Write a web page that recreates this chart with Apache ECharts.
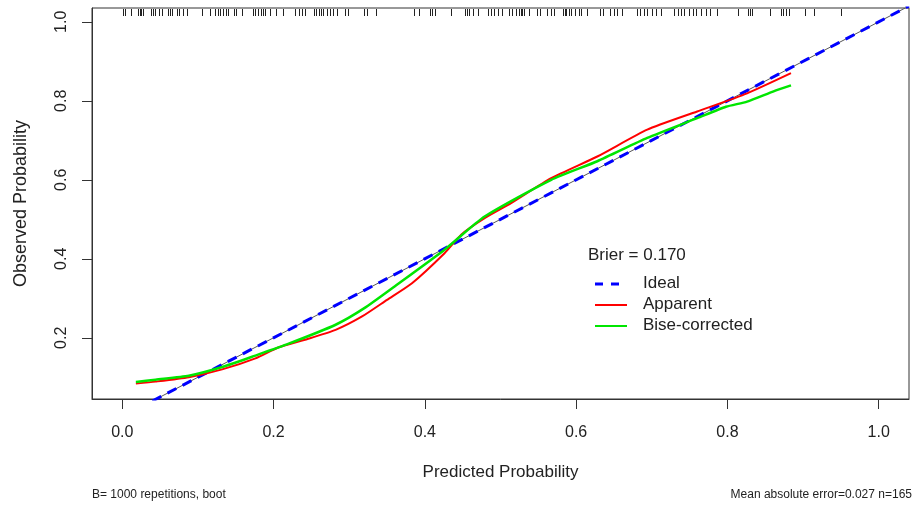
<!DOCTYPE html>
<html>
<head>
<meta charset="utf-8">
<script src="https://cdn.jsdelivr.net/npm/echarts@6/dist/echarts.min.js"></script>
<style>
  html, body { margin: 0; padding: 0; background: #fff; }
  #chart { width: 918px; height: 508px; }
</style>
</head>
<body>
<div id="chart"></div>
<script>
// axis ticks
const xTicks = [0, 0.2, 0.4, 0.6, 0.8, 1.0];
const yTicks = [0.2, 0.4, 0.6, 0.8, 1.0];

// calibration curves (predicted -> observed)
const apparentX = [0.018, 0.044, 0.088, 0.132, 0.176, 0.207, 0.245, 0.282, 0.317, 0.35, 0.383, 0.426, 0.448, 0.479, 0.514, 0.567, 0.628, 0.694, 0.760, 0.826, 0.884];
const apparentY = [0.084, 0.089, 0.100, 0.120, 0.148, 0.176, 0.197, 0.220, 0.254, 0.296, 0.338, 0.414, 0.461, 0.503, 0.541, 0.604, 0.659, 0.727, 0.773, 0.819, 0.870];

const correctedX = [0.018, 0.044, 0.088, 0.132, 0.176, 0.220, 0.282, 0.320, 0.360, 0.426, 0.479, 0.567, 0.628, 0.694, 0.760, 0.798, 0.826, 0.861, 0.884];
const correctedY = [0.088, 0.094, 0.104, 0.126, 0.155, 0.185, 0.233, 0.275, 0.330, 0.423, 0.507, 0.600, 0.647, 0.706, 0.756, 0.785, 0.798, 0.824, 0.839];

const idealX = [0, 1.04];

// rug of predicted probabilities (top of plot)
const rugValues = [
  0.001, 0.004, 0.011, 0.021, 0.023, 0.025, 0.027, 0.038, 0.041, 0.043, 0.048, 0.053, 0.060, 0.063, 0.066,
  0.072, 0.075, 0.080, 0.085, 0.105, 0.116, 0.123, 0.126, 0.129, 0.133, 0.137, 0.140, 0.148, 0.151, 0.158,
  0.173, 0.176, 0.180, 0.183, 0.186, 0.189, 0.195, 0.203, 0.212, 0.229, 0.233, 0.238, 0.242, 0.253, 0.256,
  0.260, 0.263, 0.266, 0.270, 0.275, 0.279, 0.284, 0.295, 0.299, 0.319, 0.323, 0.336, 0.385, 0.392, 0.407,
  0.410, 0.414, 0.435, 0.453, 0.456, 0.459, 0.464, 0.470, 0.484, 0.488, 0.492, 0.497, 0.502, 0.511, 0.515,
  0.521, 0.524, 0.527, 0.528, 0.531, 0.538, 0.548, 0.552, 0.562, 0.567, 0.571, 0.582, 0.585, 0.587, 0.590,
  0.593, 0.599, 0.604, 0.607, 0.615, 0.632, 0.636, 0.645, 0.650, 0.654, 0.661, 0.680, 0.685, 0.690, 0.694,
  0.700, 0.705, 0.712, 0.729, 0.734, 0.739, 0.743, 0.749, 0.754, 0.759, 0.765, 0.772, 0.777, 0.786, 0.814,
  0.827, 0.830, 0.833, 0.856, 0.871, 0.874, 0.877, 0.881, 0.902, 0.915, 0.950
];

const legendNames = ['Ideal', 'Apparent', 'Bise-corrected'];
const legendColors = ['#0000ff', '#ff0000', '#00e600'];

const xMin = -0.04, xMax = 1.04;
const yMin = 0.045, yMax = 1.035;
const FONT = '"Liberation Sans", Arial, sans-serif';
const INK = '#222';

const chart = echarts.init(document.getElementById('chart'), null, { renderer: 'canvas' });

const zip = (xs, ys) => xs.map((x, i) => [x, ys[i]]);

// legend drawn by hand: R-style line keys, no markers
const legendGraphics = [];
legendNames.forEach((name, i) => {
  const cy = 284 + i * 21;
  legendGraphics.push({
    type: 'line', silent: true,
    shape: { x1: 595, y1: cy, x2: 627, y2: cy },
    style: {
      stroke: legendColors[i], lineWidth: i === 0 ? 3 : 2,
      lineDash: i === 0 ? [8, 8] : null
    }
  });
  legendGraphics.push({
    type: 'text', left: 643, top: cy - 9,
    style: { text: name, fill: INK, font: '17px ' + FONT }
  });
});

chart.setOption({
  animation: false,
  backgroundColor: '#fff',
  textStyle: { fontFamily: FONT },
  grid: {
    left: 92, right: 9, top: 8, bottom: 109,
    show: true, borderColor: '#333', borderWidth: 1, backgroundColor: 'transparent'
  },
  xAxis: {
    type: 'value', min: xMin, max: xMax,
    name: 'Predicted Probability', nameLocation: 'middle', nameGap: 65,
    nameTextStyle: { fontSize: 17, color: INK, fontFamily: FONT },
    axisLine: { show: true, onZero: false, lineStyle: { color: '#333', width: 1 } },
    axisTick: { show: true, length: 10, lineStyle: { color: '#333' }, customValues: xTicks },
    axisLabel: {
      fontSize: 16, color: INK, margin: 26, fontFamily: FONT,
      customValues: xTicks, formatter: v => v.toFixed(1)
    },
    splitLine: { show: false }
  },
  yAxis: {
    type: 'value', min: yMin, max: yMax,
    name: 'Observed Probability', nameLocation: 'middle', nameGap: 62,
    nameTextStyle: { fontSize: 18, color: INK, fontFamily: FONT },
    axisLine: { show: true, onZero: false, lineStyle: { color: '#333', width: 1 } },
    axisTick: { show: true, length: 10, lineStyle: { color: '#333' }, customValues: yTicks },
    axisLabel: {
      fontSize: 16, color: INK, margin: 22, rotate: 90, fontFamily: FONT,
      customValues: yTicks, formatter: v => v.toFixed(1)
    },
    splitLine: { show: false }
  },
  graphic: [
    { type: 'text', left: 588, top: 247, style: { text: 'Brier = 0.170', fill: INK, font: '17px ' + FONT } },
    { type: 'text', left: 92, top: 489, style: { text: 'B= 1000 repetitions, boot', fill: INK, font: '12px ' + FONT } },
    { type: 'text', right: 6, top: 489, style: { text: 'Mean absolute error=0.027 n=165', fill: INK, font: '12px ' + FONT } }
  ].concat(legendGraphics),
  series: [
    {
      name: 'rug', type: 'custom', silent: true,
      data: rugValues.map(v => [v, yMax]),
      renderItem: (params, api) => {
        const p = api.coord([api.value(0), api.value(1)]);
        return {
          type: 'line',
          shape: { x1: Math.round(p[0]) + 0.5, y1: p[1] + 1, x2: Math.round(p[0]) + 0.5, y2: p[1] + 8 },
          style: { stroke: '#222', lineWidth: 1 }
        };
      }
    },
    {
      name: 'idealBase', type: 'line', symbol: 'none', silent: true,
      data: zip(idealX, idealX),
      lineStyle: { color: '#555', width: 1 }
    },
    {
      name: 'Ideal', type: 'line', symbol: 'none',
      data: zip(idealX, idealX),
      lineStyle: { color: '#0000ff', width: 3, type: [10, 7] }
    },
    {
      name: 'Apparent', type: 'line', symbol: 'none', smooth: 0.2,
      data: zip(apparentX, apparentY),
      lineStyle: { color: '#ff0000', width: 2 }
    },
    {
      name: 'Bise-corrected', type: 'line', symbol: 'none', smooth: 0.2,
      data: zip(correctedX, correctedY),
      lineStyle: { color: '#00e600', width: 2.5 }
    }
  ]
});
</script>
</body>
</html>
